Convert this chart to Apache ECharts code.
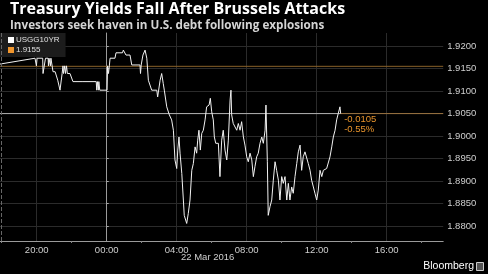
<!DOCTYPE html>
<html><head><meta charset="utf-8">
<script src="https://cdn.jsdelivr.net/npm/echarts@6/dist/echarts.min.js"></script>
<style>html,body{margin:0;padding:0;background:#000}#c{width:488px;height:274px}</style>
</head><body><div id="c"></div>
<script>
// hours relative to 22 Mar 2016 00:00
const hours = [-6.10,-4.10,-4.05,-4.02,-3.98,-3.66,-3.64,-3.53,-3.50,-3.35,-3.33,-3.30,-3.24,-3.22,-3.19,-3.13,-3.07,-2.95,-2.80,-2.78,-2.67,-2.60,-2.55,-2.50,-2.47,-2.40,-2.36,-2.30,-2.25,-2.10,-1.93,-1.41,-0.60,-0.57,-0.53,-0.48,-0.45,-0.40,0.02,0.05,0.10,0.15,0.19,0.47,0.53,0.90,0.95,1.05,1.10,1.33,1.43,1.90,1.93,1.97,2.07,2.19,2.29,2.38,2.57,2.86,2.91,3.05,3.14,3.23,3.29,3.43,3.58,3.71,3.81,3.90,4.00,4.06,4.13,4.19,4.29,4.38,4.43,4.57,4.66,4.76,4.86,4.95,5.05,5.14,5.20,5.27,5.35,5.43,5.52,5.62,5.71,5.85,5.92,6.00,6.09,6.15,6.23,6.38,6.47,6.57,6.66,6.76,6.86,6.95,7.05,7.10,7.14,7.23,7.33,7.43,7.52,7.62,7.71,7.81,7.90,8.00,8.09,8.19,8.29,8.38,8.47,8.57,8.66,8.76,8.86,8.95,9.05,9.10,9.18,9.23,9.33,9.43,9.52,9.62,9.71,9.81,9.90,10.00,10.09,10.19,10.29,10.38,10.47,10.57,10.66,10.76,10.86,10.95,11.05,11.14,11.23,11.33,11.43,11.52,11.62,11.71,11.81,11.90,12.00,12.09,12.19,12.29,12.38,12.57,12.66,12.76,12.86,12.95,13.05,13.14,13.23,13.33,13.37];
const yields = [1.9160,1.9173,1.9173,1.9156,1.9173,1.9173,1.9139,1.9139,1.9173,1.9173,1.9156,1.9173,1.9173,1.9156,1.9173,1.9173,1.9143,1.9143,1.9124,1.9124,1.9102,1.9102,1.9139,1.9156,1.9139,1.9156,1.9139,1.9156,1.9139,1.9139,1.9121,1.9121,1.9121,1.9102,1.9121,1.9102,1.9121,1.9102,1.9102,1.9156,1.9139,1.9156,1.9173,1.9173,1.9185,1.9185,1.9191,1.9191,1.9180,1.9180,1.9158,1.9158,1.9139,1.9158,1.9180,1.9191,1.9173,1.9124,1.9102,1.9102,1.9087,1.9124,1.9139,1.9117,1.9102,1.9065,1.9047,1.9036,1.9013,1.8947,1.8928,1.8969,1.8998,1.8962,1.8917,1.8858,1.8824,1.8806,1.8828,1.8858,1.8924,1.8939,1.8976,1.8962,1.8991,1.9013,1.8969,1.9006,1.9013,1.9036,1.9065,1.9069,1.9084,1.9054,1.9036,1.8998,1.8984,1.8984,1.8910,1.8991,1.9013,1.8969,1.8947,1.8991,1.9080,1.9102,1.9047,1.9028,1.9032,1.9013,1.9028,1.9013,1.9032,1.8998,1.8980,1.8954,1.8943,1.8962,1.8947,1.8910,1.8932,1.8954,1.8962,1.8984,1.8998,1.8984,1.9013,1.9069,1.8943,1.8824,1.8843,1.8858,1.8902,1.8943,1.8924,1.8902,1.8858,1.8910,1.8895,1.8910,1.8858,1.8895,1.8858,1.8887,1.8873,1.8910,1.8939,1.8965,1.8980,1.8924,1.8954,1.8965,1.8962,1.8939,1.8924,1.8902,1.8887,1.8873,1.8858,1.8880,1.8924,1.8910,1.8924,1.8928,1.8928,1.8954,1.8976,1.8998,1.9013,1.9036,1.9050,1.9065,1.9050];
const prevClose = 1.9155;
const lastValue = 1.9050;
const netChange = "-0.0105";
const pctChange = "-0.55%";
const seriesName = "USGG10YR";
const dateLabel = "22 Mar 2016";
const xStart = -6.10, xEnd = 19.23;
const yMin = 1.8767, yMax = 1.9229;

const chart = echarts.init(document.getElementById('c'));
const lastH = hours[hours.length-1];
const FONT = 'Liberation Sans';
const G = '#2b2b2b', T = 'transparent';
chart.setOption({
  backgroundColor: '#000',
  animation: false,
  textStyle: {fontFamily: FONT},
  title: {
    text: 'Treasury Yields Fall After Brussels Attacks',
    subtext: 'Investors seek haven in U.S. debt following explosions',
    left: 10, top: 1, itemGap: 3, padding: 0,
    textStyle: {color: '#ffffff', fontSize: 16, fontWeight: 'bold', fontFamily: 'Open Sans'},
    subtextStyle: {color: '#d4d4d4', fontSize: 11.7, fontWeight: 'bold', fontFamily: 'Open Sans'}
  },
  legend: {
    data: [seriesName, String(prevClose)],
    orient: 'vertical', left: 0, top: 33,
    backgroundColor: '#1c1c1c', padding: [3, 6, 3, 8],
    itemGap: 2, itemWidth: 6, itemHeight: 6, icon: 'rect',
    textStyle: {color: '#e0e0e0', fontSize: 8, padding: [0,0,0,-3]},
    selectedMode: false
  },
  grid: {left: 0, right: 44.8, top: 33, bottom: 33, containLabel: false, outerBoundsMode: 'none'},
  xAxis: {
    type: 'value', min: xStart, max: xEnd,
    minInterval: 4, maxInterval: 4, splitNumber: 6,
    axisLine: {lineStyle: {color: '#9a9a9a', width: 1}},
    axisTick: {show: false},
    minorTick: {show: true, splitNumber: 2, length: 2, lineStyle: {color: '#888'}},
    axisLabel: {color: '#cfcfcf', fontSize: 9.5, margin: 4, showMinLabel: false, showMaxLabel: false,
      formatter: v => String(((Math.round(v) % 24) + 24) % 24).padStart(2, '0') + ':00'},
    splitLine: {show: true, lineStyle: {color: [T, G, G, G, G, G, G, T], width: 1}}
  },
  yAxis: {
    type: 'value', position: 'right', min: yMin, max: yMax,
    minInterval: 0.005, maxInterval: 0.005, splitNumber: 9,
    name: 'Percent', nameLocation: 'middle', nameRotate: -90, nameGap: 38,
    nameTextStyle: {color: '#e0e0e0', fontSize: 11},
    axisLine: {show: true, lineStyle: {color: '#9a9a9a'}},
    axisTick: {show: true, length: 2, lineStyle: {color: '#aaa'}},
    axisLabel: {color: '#cfcfcf', fontSize: 9.5, margin: 4, showMinLabel: false, showMaxLabel: false,
      formatter: v => v.toFixed(4)},
    splitLine: {show: true, lineStyle: {color: [T, G, G, G, G, G, G, G, G, G, T]}}
  },
  graphic: [
    {type: 'text', left: 181, top: 252, style: {text: dateLabel, fill: '#cfcfcf', font: '9.5px "Liberation Sans"'}},
    {type: 'text', right: 14, top: 261, style: {text: 'Bloomberg', fill: '#ffffff', font: '10.5px "Liberation Sans"'}},
    {type: 'rect', right: 4, top: 262, shape: {width: 7, height: 8}, style: {fill: '#555', stroke: '#ccc', lineWidth: 1}}
  ],
  series: [
    {
      name: String(prevClose), type: 'line', symbol: 'none', silent: true,
      itemStyle: {color: '#f0962e'},
      lineStyle: {color: '#8a6129', width: 1},
      data: [[xStart, prevClose], [xEnd, prevClose]],
      z: 1
    },
    {
      name: 'last', type: 'line', symbol: 'none', silent: true,
      lineStyle: {color: '#b0b0b0', width: 1},
      data: [[xStart, lastValue], [lastH, lastValue]],
      z: 1
    },
    {
      name: 'lastR', type: 'line', symbol: 'none', silent: true,
      lineStyle: {color: '#9c7440', width: 1},
      data: [[lastH, lastValue], [xEnd, lastValue]],
      z: 1
    },
    {
      name: seriesName, type: 'line', symbol: 'none',
      itemStyle: {color: '#ffffff'},
      lineStyle: {color: '#f2f2f2', width: 1},
      data: hours.map((h, i) => [h, yields[i]]),
      markLine: {
        silent: true, symbol: 'none', label: {show: false},
        lineStyle: {color: '#666', type: 'dashed', width: 1},
        data: [{xAxis: xStart + 0.05}]
      },
      markPoint: {
        symbol: 'circle', symbolSize: 1, itemStyle: {color: 'transparent'},
        label: {show: true, position: [4, 1], align: 'left', verticalAlign: 'top',
          color: '#e8942c', fontSize: 9.5, lineHeight: 10.5,
          formatter: netChange + '\n' + pctChange},
        data: [{coord: [lastH, lastValue]}]
      },
      z: 3
    }
  ]
});
</script></body></html>
